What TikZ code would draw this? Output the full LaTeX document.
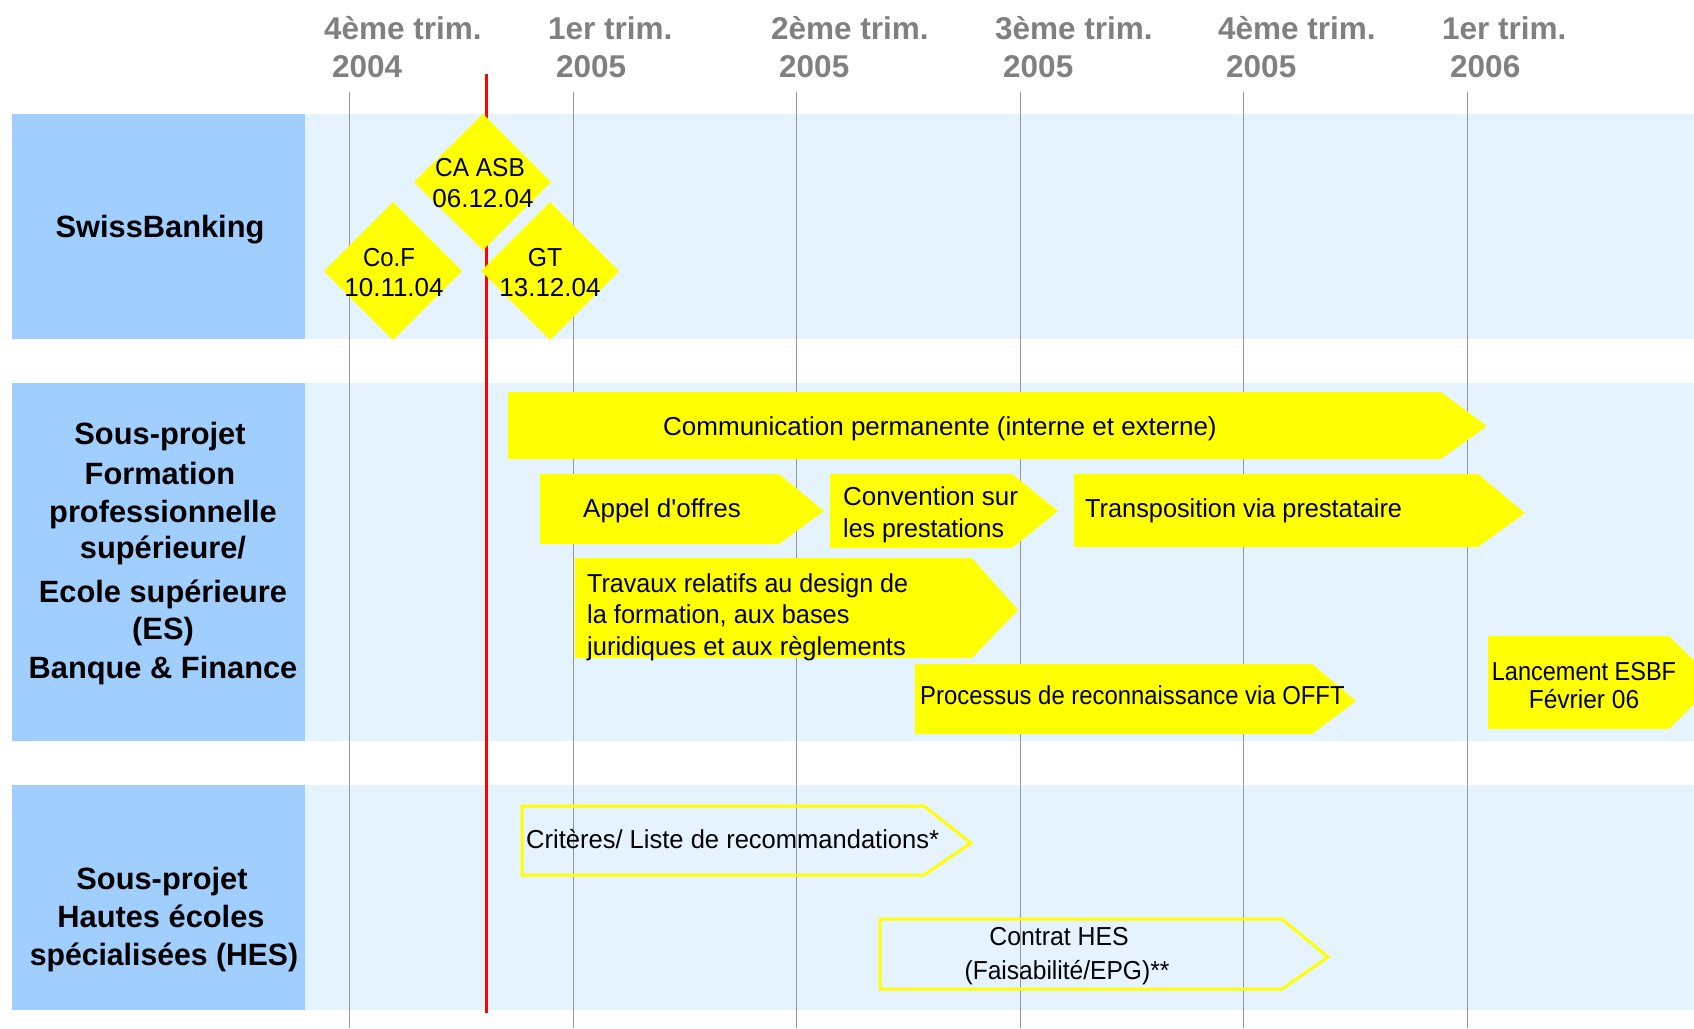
\documentclass[tikz,border=0pt]{standalone}
\usepackage{fontspec}
\setmainfont{Liberation Sans}[Ligatures=TeXOff]
\definecolor{labelblue}{RGB}{160,206,255}
\definecolor{bandblue}{RGB}{229,243,255}
\definecolor{hdrgray}{RGB}{128,128,128}
\definecolor{gridgray}{RGB}{150,150,150}
\definecolor{taskyellow}{RGB}{255,255,0}
\newcommand\sqz[2]{\scalebox{#1}[1]{#2}}
\begin{document}
\begin{tikzpicture}[x=1pt,y=-1pt,
  hdr/.style={font=\fontsize{31.5}{36}\selectfont\bfseries, text=hdrgray, inner sep=0, anchor=base west},
  rowlabel/.style={font=\fontsize{30.8}{36}\selectfont\bfseries, inner sep=0, anchor=base},
  tasktext/.style={font=\fontsize{26}{31}\selectfont, inner sep=0, anchor=base west},
  taskctext/.style={font=\fontsize{26}{31}\selectfont, inner sep=0, anchor=base},
  taskfill/.style={fill=taskyellow, draw=none},
  taskline/.style={draw=taskyellow, line width=3pt, fill=none, line join=miter},
  gridline/.style={draw=gridgray, line width=1pt},
  todayline/.style={draw=red, line width=3pt}]
\useasboundingbox (0,0) rectangle (1694,1028);
% bands
\fill[bandblue] (305,114) rectangle (1694,339);
\fill[bandblue] (305,383) rectangle (1694,741);
\fill[bandblue] (305,785) rectangle (1694,1010);
\fill[labelblue] (12,114) rectangle (305,339);
\fill[labelblue] (12,383) rectangle (305,741);
\fill[labelblue] (12,785) rectangle (305,1010);
% grid lines
\foreach \gx in {349,573,796,1020,1243,1467}
  \draw[gridline] (\gx,92) -- (\gx,1028);
% today line
\coordinate (redtop) at (486,74);
\coordinate (redbot) at (486,1013);
\draw[todayline] (redtop) -- (redbot);
% headers
\node[hdr] (h1a) at (324,39) {4ème trim.};
\node[hdr] (h1b) at (332,77) {2004};
\node[hdr] (h2a) at (548,39) {1er trim.};
\node[hdr] (h2b) at (556,77) {2005};
\node[hdr] (h3a) at (771,39) {2ème trim.};
\node[hdr] (h3b) at (779,77) {2005};
\node[hdr] (h4a) at (995,39) {3ème trim.};
\node[hdr] (h4b) at (1003,77) {2005};
\node[hdr] (h5a) at (1218,39) {4ème trim.};
\node[hdr] (h5b) at (1226,77) {2005};
\node[hdr] (h6a) at (1442,39) {1er trim.};
\node[hdr] (h6b) at (1450,77) {2006};
% row labels
\node[rowlabel] (sb) at (160,237) {SwissBanking};
\node[rowlabel] (r2a) at (160,444) {Sous-projet};
\node[rowlabel] (r2b) at (160,484) {Formation};
\node[rowlabel] (r2c) at (163,522) {professionnelle};
\node[rowlabel] (r2d) at (163,558) {supérieure/};
\node[rowlabel] (r2e) at (163,602) {Ecole supérieure};
\node[rowlabel] (r2f) at (163,639) {(ES)};
\node[rowlabel] (r2g) at (163,678) {Banque \& Finance};
\node[rowlabel] (r3a) at (162,889) {Sous-projet};
\node[rowlabel] (r3b) at (161,927) {Hautes écoles};
\node[rowlabel] (r3c) at (164,965) {\sqz{0.98}{spécialisées (HES)}};
% milestones
\path[taskfill] (483,114) -- (551,182) -- (483,250) -- (414,182) -- cycle;
\path[taskfill] (393,202) -- (462,271) -- (393,340) -- (324,271) -- cycle;
\path[taskfill] (550,202) -- (619,271) -- (550,340) -- (481,271) -- cycle;
\node[taskctext] (ca1) at (480,176) {\sqz{0.94}{CA ASB}};
\node[taskctext] (ca2) at (483,207) {06.12.04};
\node[taskctext] (cof1) at (389,266) {\sqz{0.92}{Co.F}};
\node[taskctext] (cof2) at (394,296) {10.11.04};
\node[taskctext] (gt1) at (545,266) {\sqz{0.95}{GT}};
\node[taskctext] (gt2) at (550,296) {13.12.04};
% row 2 tasks
\path[taskfill] (508,392) -- (1441,392) -- (1487,426) -- (1441,459) -- (508,459) -- cycle;
\node[tasktext] (comm) at (663,435) {Communication permanente (interne et externe)};
\path[taskfill] (540,474) -- (779,474) -- (824,511) -- (779,544) -- (540,544) -- cycle;
\node[tasktext] (appel) at (583,517) {Appel d'offres};
\path[taskfill] (830,474) -- (1012,474) -- (1058,511) -- (1012,548) -- (830,548) -- cycle;
\node[tasktext] (conv1) at (843,505) {Convention sur};
\node[tasktext] (conv2) at (843,537) {\sqz{0.96}{les prestations}};
\path[taskfill] (1074,474) -- (1478,474) -- (1525,513) -- (1478,547) -- (1074,547) -- cycle;
\node[tasktext] (transp) at (1085,517) {\sqz{0.973}{Transposition via prestataire}};
\path[taskfill] (575,558) -- (972,558) -- (1018,610) -- (972,658) -- (575,658) -- cycle;
\node[tasktext] (trav1) at (587,592) {\sqz{0.964}{Travaux relatifs au design de}};
\node[tasktext] (trav2) at (587,623) {\sqz{0.976}{la formation, aux bases}};
\node[tasktext] (trav3) at (587,655) {\sqz{0.98}{juridiques et aux règlements}};
\path[taskfill] (915,664) -- (1312,664) -- (1356,701) -- (1312,734) -- (915,734) -- cycle;
\node[tasktext] (proc) at (920,704) {\sqz{0.918}{Processus de reconnaissance via OFFT}};
\path[taskfill] (1488,636) -- (1669,636) -- (1716,682) -- (1669,729) -- (1488,729) -- cycle;
\node[taskctext] (lanc1) at (1584,680) {\sqz{0.904}{Lancement ESBF}};
\node[taskctext] (lanc2) at (1584,708) {\sqz{0.944}{Février 06}};
% row 3 tasks
\draw[taskline] (522,806) -- (924,806) -- (971,843) -- (924,875) -- (522,875) -- cycle;
\node[tasktext] (crit) at (526,848) {\sqz{0.982}{Critères/ Liste de recommandations*}};
\draw[taskline] (880,919) -- (1282,919) -- (1328,957) -- (1282,989) -- (880,989) -- cycle;
\node[taskctext] (hes1) at (1059,945) {\sqz{0.955}{Contrat HES}};
\node[taskctext] (hes2) at (1067,979) {\sqz{0.945}{(Faisabilité/EPG)**}};
\end{tikzpicture}
\end{document}
